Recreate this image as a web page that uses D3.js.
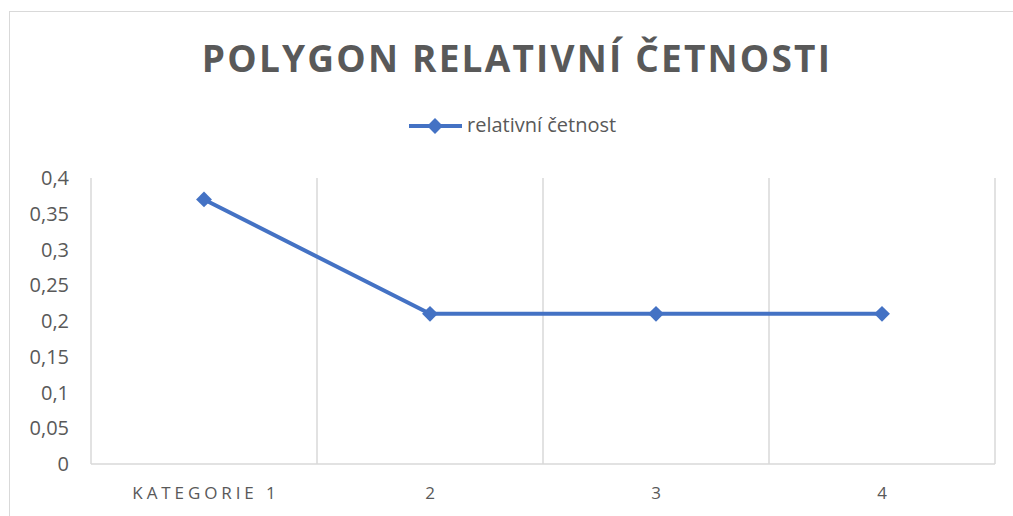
<!DOCTYPE html>
<html>
<head>
<meta charset="utf-8">
<script src="https://cdn.jsdelivr.net/npm/d3@7"></script>
<style>
  body { margin: 0; background: #fff; }
  svg { display: block; font-family: "Open Sans", sans-serif; }
</style>
</head>
<body>
<svg></svg>
<script>
var width = 1013;
var height = 516;

// data
var categories = ['KATEGORIE 1', '2', '3', '4'];
var values = [0.37, 0.21, 0.21, 0.21];
var yTicks = [0, 0.05, 0.1, 0.15, 0.2, 0.25, 0.3, 0.35, 0.4];
var seriesName = 'relativní četnost';
var title = 'POLYGON RELATIVNÍ ČETNOSTI';

var margin = {left: 91, right: 18, top: 178, bottom: 52};

var svg = d3.select('svg')
            .attr('width', width)
            .attr('height', height);

// chart border
svg.append('rect')
   .attr('x', 9.5).attr('y', 11.5)
   .attr('width', 1020).attr('height', 520)
   .attr('fill', 'none')
   .attr('stroke', '#d9d9d9');

var x = d3.scaleBand()
          .domain(categories)
          .range([margin.left, width - margin.right]);

var y = d3.scaleLinear()
          .domain([0, 0.4])
          .range([height - margin.bottom, margin.top]);

// vertical grid lines at category boundaries
var bounds = categories.map(c => x(c)).concat([x.range()[1]]);
svg.append('g')
   .selectAll('line')
   .data(bounds)
   .enter()
   .append('line')
   .attr('x1', d => d).attr('x2', d => d)
   .attr('y1', y(0.4)).attr('y2', y(0))
   .attr('stroke', '#d9d9d9')
   .attr('stroke-width', 1.5);

// x axis line
svg.append('line')
   .attr('x1', x.range()[0]).attr('x2', x.range()[1])
   .attr('y1', y(0)).attr('y2', y(0))
   .attr('stroke', '#d9d9d9')
   .attr('stroke-width', 1.5);

// y tick labels
svg.append('g')
   .selectAll('text')
   .data(yTicks)
   .enter()
   .append('text')
   .attr('x', 69)
   .attr('y', d => y(d))
   .attr('dy', '0.35em')
   .attr('text-anchor', 'end')
   .attr('fill', '#595959')
   .style('font-size', '20px')
   .text(d => String(d).replace('.', ','));

// x labels
svg.append('g')
   .selectAll('text')
   .data(categories)
   .enter()
   .append('text')
   .attr('x', d => x(d) + x.bandwidth() / 2 + (d.length > 1 ? 2 : 0))
   .attr('y', 499)
   .attr('text-anchor', 'middle')
   .attr('fill', '#595959')
   .style('font-size', '17px')
   .style('letter-spacing', d => d.length > 1 ? '3.9px' : '0px')
   .text(d => d);

var blue = '#4472c4';
var line = d3.line()
             .x((d, i) => x(categories[i]) + x.bandwidth() / 2)
             .y(d => y(d));

svg.append('path')
   .datum(values)
   .attr('d', line)
   .attr('fill', 'none')
   .attr('stroke', blue)
   .attr('stroke-width', 4);

var diamond = d3.symbol().type(d3.symbolDiamond2).size(160);
svg.append('g')
   .selectAll('path')
   .data(values)
   .enter()
   .append('path')
   .attr('d', diamond)
   .attr('transform', (d, i) => 'translate(' + (x(categories[i]) + x.bandwidth() / 2) + ',' + y(d) + ')')
   .attr('fill', blue);

// title
svg.append('text')
   .attr('x', 517)
   .attr('y', 72)
   .attr('text-anchor', 'middle')
   .attr('fill', '#595959')
   .style('font-size', '37px')
   .style('font-weight', 'bold')
   .style('letter-spacing', '2.2px')
   .text(title);

// legend
var lg = svg.append('g');
lg.append('line')
  .attr('x1', 409).attr('x2', 462)
  .attr('y1', 126).attr('y2', 126)
  .attr('stroke', blue).attr('stroke-width', 4);
lg.append('path')
  .attr('d', diamond)
  .attr('transform', 'translate(435,126)')
  .attr('fill', blue);
lg.append('text')
  .attr('x', 467).attr('y', 132)
  .attr('fill', '#595959')
  .style('font-size', '20px')
  .text(seriesName);
</script>
</body>
</html>
